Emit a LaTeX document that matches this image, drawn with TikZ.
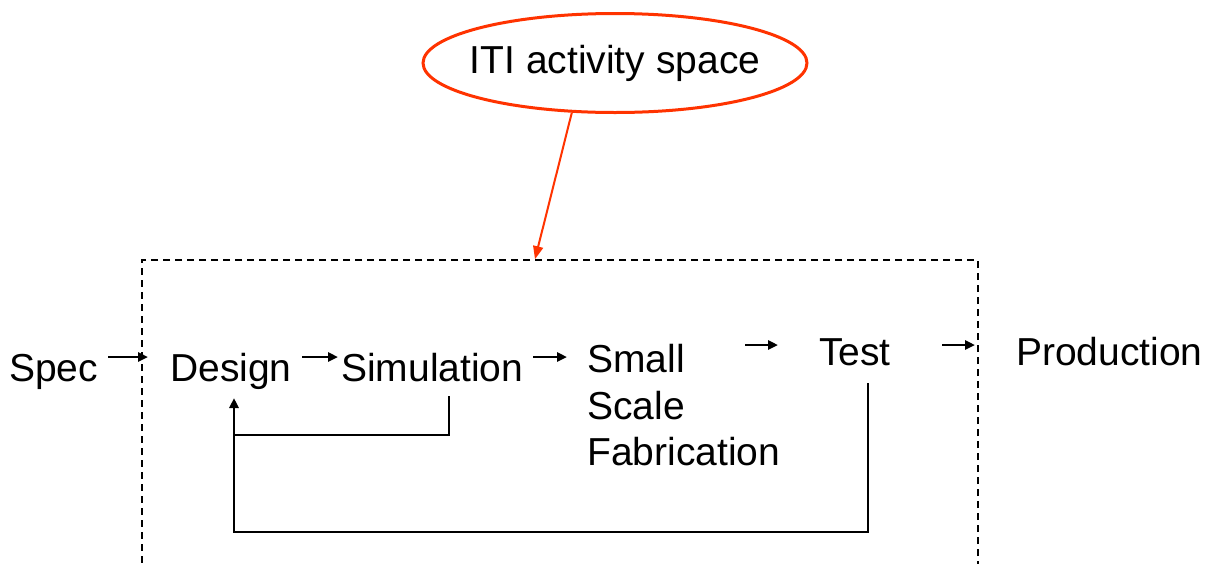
\documentclass[tikz,border=0pt]{standalone}
\usepackage{fontspec}
\setmainfont{Liberation Sans}
\usetikzlibrary{arrows.meta,shapes.geometric}
\definecolor{itired}{RGB}{255,51,0}
\tikzset{
  lbl/.style={inner sep=0pt, anchor=base west, font=\fontsize{39}{46}\selectfont},
  arr/.style={line width=2.6pt, -{Triangle[length=10pt,width=9pt]}},
  loopline/.style={line width=2.8pt},
  regionbox/.style={draw, line width=1.6pt, dash pattern=on 7pt off 5pt, minimum width=836pt, minimum height=360pt, inner sep=0pt},
  itiell/.style={draw=itired, line width=3pt, ellipse, minimum width=384pt, minimum height=99pt, inner sep=0pt, font=\fontsize{39}{46}\selectfont},
  redarr/.style={draw=itired, line width=2pt, -{Triangle[length=13pt,width=10pt]}, itired}
}
\begin{document}
\begin{tikzpicture}[x=1pt,y=-1pt]
\useasboundingbox (0,0) rectangle (1215,563);
\clip (0,0) rectangle (1215,563);
\fill[white] (0,0) rectangle (1215,563);

\node[regionbox] (box) at (560,440) {};
\node[itiell] (iti) at (615,63) {\makebox[240pt][c]{ITI activity space}};

\node[lbl] (spec) at (9,381) {Spec};
\node[lbl] (design) at (170,381) {Design};
\node[lbl] (sim) at (341,381) {Simulation};
\node[lbl] (small) at (587,372) {Small};
\node[lbl] (scale) at (587,419) {Scale};
\node[lbl] (fab) at (587,465) {Fabrication};
\node[lbl] (test) at (819,365) {Test};
\node[lbl] (prod) at (1016,365) {Production};

% forward arrows
\draw[arr] ([xshift=99pt,yshift=24pt]spec.base west) -- ([xshift=-22pt,yshift=24pt]design.base west);
\draw[arr] ([xshift=132pt,yshift=24pt]design.base west) -- ([xshift=-3pt,yshift=24pt]sim.base west);
\draw[arr] ([xshift=192pt,yshift=24pt]sim.base west) -- ([xshift=-20pt,yshift=15pt]small.base west);
\draw[arr] ([xshift=158pt,yshift=27pt]small.base west) -- ([xshift=-41pt,yshift=20pt]test.base west);
\draw[arr] ([xshift=123pt,yshift=20pt]test.base west) -- ([xshift=-41pt,yshift=20pt]prod.base west);

% feedback loops
\draw[loopline] ([xshift=108pt,yshift=-15pt]sim.base west) |- ([xshift=64pt,yshift=-54pt]design.base west);
\draw[loopline,-{Triangle[length=10pt,width=9pt]}] ([xshift=49pt,yshift=-18pt]test.base west) |- ([xshift=64pt,yshift=-151pt]design.base west) -- ([xshift=64pt,yshift=-17pt]design.base west);

% annotation arrow
\draw[redarr] (iti.229) -- ([xshift=-25pt]box.north);
\end{tikzpicture}
\end{document}
